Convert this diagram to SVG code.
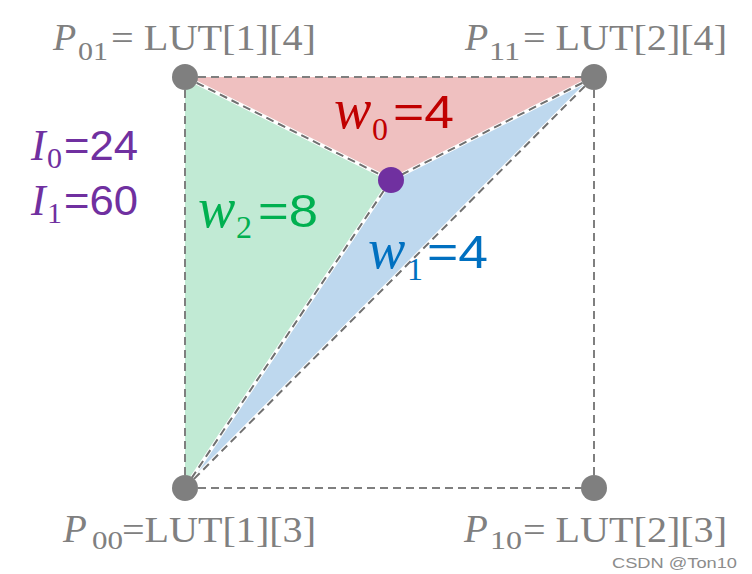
<svg xmlns="http://www.w3.org/2000/svg" width="752" height="574" viewBox="0 0 752 574">
<style>
.sq{fill:none;stroke:#7f7f7f;stroke-width:2;stroke-dasharray:8 5}
.edgew{fill:none;stroke:#ffffff;stroke-width:4}
.edge{fill:none;stroke:#707070;stroke-width:2;stroke-dasharray:8 5}
.dot{fill:#7f7f7f}
.lbl{font-family:"Liberation Serif",serif;fill:#808080}
.it{font-style:italic}
.num{font-family:"Liberation Sans","Noto Sans",sans-serif}
.sub{font-family:"Liberation Serif",serif}
</style>
<rect width="752" height="574" fill="#ffffff"/>
<g id="regions">
<polygon points="185,77 594,77 391,180" fill="#efc0c0"/>
<polygon points="185,77 391,180 185,488" fill="#c1ead4"/>
<polygon points="594,77 391,180 185,488" fill="#bed8ee"/>
</g>
<g id="connectors">
<line class="sq" x1="185" y1="77" x2="594" y2="77"/>
<line class="sq" x1="185" y1="77" x2="185" y2="488"/>
<line class="sq" x1="185" y1="488" x2="594" y2="488"/>
<line class="sq" x1="594" y1="77" x2="594" y2="488"/>
<line class="edgew" x1="185" y1="77" x2="391" y2="180"/>
<line class="edgew" x1="594" y1="77" x2="391" y2="180"/>
<line class="edgew" x1="391" y1="180" x2="185" y2="488"/>
<line class="edgew" x1="594" y1="77" x2="185" y2="488"/>
<line class="edge" x1="185" y1="77" x2="391" y2="180"/>
<line class="edge" x1="594" y1="77" x2="391" y2="180"/>
<line class="edge" x1="391" y1="180" x2="185" y2="488"/>
<line class="edge" x1="594" y1="77" x2="185" y2="488"/>
</g>
<g id="P01">
<circle class="dot" cx="185" cy="77" r="13"/>
<text class="lbl" font-size="35"><tspan class="it" x="53" y="50" font-size="38">P</tspan><tspan x="78" y="60" font-size="25" textLength="30" lengthAdjust="spacingAndGlyphs">01</tspan><tspan x="111" y="50" textLength="205" lengthAdjust="spacingAndGlyphs">= LUT[1][4]</tspan></text>
</g>
<g id="P11">
<circle class="dot" cx="594" cy="77" r="13"/>
<text class="lbl" font-size="35"><tspan class="it" x="465" y="50" font-size="38">P</tspan><tspan x="489" y="60" font-size="25" textLength="31" lengthAdjust="spacingAndGlyphs">11</tspan><tspan x="523" y="50" textLength="204" lengthAdjust="spacingAndGlyphs">= LUT[2][4]</tspan></text>
</g>
<g id="P00">
<circle class="dot" cx="185" cy="488" r="13"/>
<text class="lbl" font-size="36"><tspan class="it" x="63" y="542" font-size="39">P</tspan><tspan x="92" y="549" font-size="26" textLength="31" lengthAdjust="spacingAndGlyphs">00</tspan><tspan x="122" y="542" textLength="194" lengthAdjust="spacingAndGlyphs">=LUT[1][3]</tspan></text>
</g>
<g id="P10">
<circle class="dot" cx="594" cy="488" r="13"/>
<text class="lbl" font-size="36"><tspan class="it" x="464" y="542" font-size="39">P</tspan><tspan x="490" y="549" font-size="26" textLength="32" lengthAdjust="spacingAndGlyphs">10</tspan><tspan x="523" y="542" textLength="204" lengthAdjust="spacingAndGlyphs">= LUT[2][3]</tspan></text>
</g>
<g id="point">
<circle cx="391" cy="180" r="13" fill="#7030a0"/>
</g>
<g id="I-labels" fill="#7030a0">
<text font-size="42"><tspan class="sub it" x="31" y="160" font-size="44">I</tspan><tspan class="sub" x="47" y="168" font-size="30">0</tspan><tspan class="num" x="64" y="160" textLength="74" lengthAdjust="spacingAndGlyphs">=24</tspan></text>
<text font-size="42"><tspan class="sub it" x="31" y="215" font-size="44">I</tspan><tspan class="sub" x="47" y="223" font-size="30">1</tspan><tspan class="num" x="64" y="215" textLength="74" lengthAdjust="spacingAndGlyphs">=60</tspan></text>
</g>
<g id="w0" fill="#c00000">
<text font-size="46"><tspan class="sub it" x="334" y="128" font-size="56">w</tspan><tspan class="sub" x="372" y="140" font-size="32">0</tspan><tspan class="num" x="393" y="128" textLength="61" lengthAdjust="spacingAndGlyphs">=4</tspan></text>
</g>
<g id="w2" fill="#00b050">
<text font-size="46"><tspan class="sub it" x="198" y="227" font-size="56">w</tspan><tspan class="sub" x="236" y="238" font-size="32">2</tspan><tspan class="num" x="258" y="227" textLength="60" lengthAdjust="spacingAndGlyphs">=8</tspan></text>
</g>
<g id="w1" fill="#0070c0">
<text font-size="46"><tspan class="sub it" x="368" y="268" font-size="56">w</tspan><tspan class="sub" x="407" y="280" font-size="32">1</tspan><tspan class="num" x="427" y="268" textLength="61" lengthAdjust="spacingAndGlyphs">=4</tspan></text>
</g>
<g id="watermark">
<text x="612" y="568" font-family="Liberation Sans, Arial, sans-serif" font-size="15" fill="#8c8c8c" textLength="125" lengthAdjust="spacingAndGlyphs">CSDN @Ton10</text>
</g>
</svg>
